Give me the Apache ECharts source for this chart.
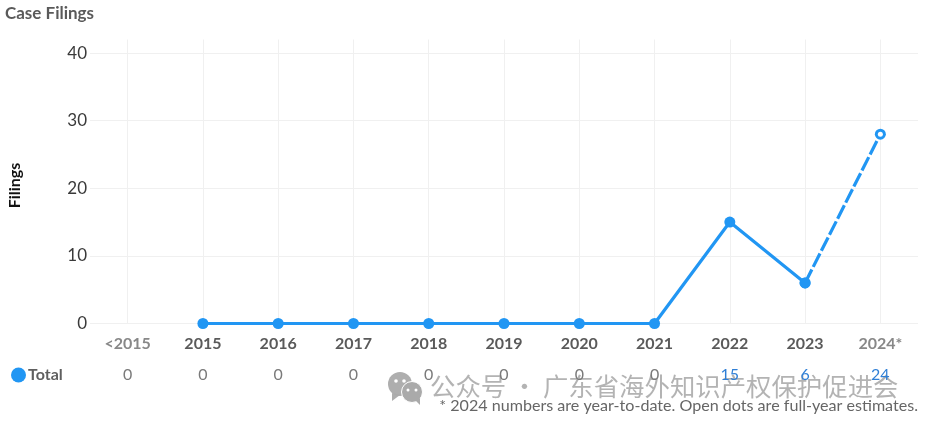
<!DOCTYPE html>
<html><head><meta charset="utf-8">
<style>html,body{margin:0;padding:0;background:#fff}#c{width:925px;height:425px}</style>
<script src="https://cdn.jsdelivr.net/npm/echarts@6/dist/echarts.min.js"></script>
</head><body><div id="c"></div>
<script>
const categories = ['<2015','2015','2016','2017','2018','2019','2020','2021','2022','2023','2024*'];
const actualFilings = [null,0,0,0,0,0,0,0,15,6,null];
const estimatedFilings = [null,null,null,null,null,null,null,null,null,6,28];
const tableTotals = [0,0,0,0,0,0,0,0,15,6,24];
const yTicks = [0,10,20,30,40];
const BLUE = '#2196f3';
const FONT = 'Lato, sans-serif';
const chart = echarts.init(document.getElementById('c'), null, {renderer:'canvas'});
chart.setOption({
  animation:false,
  backgroundColor:'#fff',
  textStyle:{fontFamily:FONT},
  title:{text:'Case Filings',left:5,top:5,padding:0,textStyle:{fontFamily:FONT,fontSize:17,fontWeight:'bold',color:'#5a5a5a'}},
  legend:{data:['Total'],left:11,top:367,padding:0,icon:'circle',itemWidth:15,itemHeight:15,itemGap:0,selectedMode:false,
    textStyle:{fontFamily:FONT,fontSize:16,fontWeight:'bold',color:'#5f5f5f',padding:[0,0,0,-3]}},
  grid:{left:90,right:7,top:39.5,height:284,containLabel:false,outerBoundsMode:'none'},
  xAxis:[
    {type:'category',data:categories,position:'bottom',boundaryGap:true,
     axisLine:{show:false},axisTick:{show:false},
     splitLine:{show:true,alignWithLabel:true,lineStyle:{color:'#f0f0f0',width:1}},
     axisLabel:{interval:0,margin:12,fontFamily:FONT,fontSize:16,fontWeight:'bold',
       color:(v,i)=>(i===0||i===categories.length-1)?'#888888':'#5a5a5a'}},
    {type:'category',data:tableTotals.map(String),position:'bottom',offset:32,boundaryGap:true,
     axisLine:{show:false},axisTick:{show:false},splitLine:{show:false},
     axisLabel:{interval:0,margin:11,fontFamily:FONT,fontSize:16,
       color:(v,i)=>tableTotals[i]>0?'#2f7fd6':'#7a7a7a'}}
  ],
  yAxis:{type:'value',min:0,max:42,interval:10,
    name:'Filings',nameLocation:'middle',nameGap:67,nameRotate:90,
    nameTextStyle:{fontFamily:FONT,fontSize:16,fontWeight:'bold',color:'#111',padding:[0,8,0,0]},
    axisLine:{show:false},axisTick:{show:false},
    splitLine:{show:true,showMinLine:true,showMaxLine:false,lineStyle:{color:'#f0f0f0',width:1}},
    axisLabel:{margin:3,padding:[2,0,0,0],fontFamily:FONT,fontSize:17,color:'#3a3a3a',customValues:yTicks}},
  series:[
    {name:'Total',type:'line',data:actualFilings,symbol:'circle',symbolSize:11,
     lineStyle:{color:BLUE,width:3.2},itemStyle:{color:BLUE},z:3},
    {name:'Estimate',type:'line',data:estimatedFilings,symbolSize:11,symbol:'circle',
     lineStyle:{color:BLUE,width:3.2,type:[15,3]},
     itemStyle:{color:BLUE},z:4,
     markPoint:{silent:true,symbol:'circle',symbolSize:5,itemStyle:{color:'#fff'},label:{show:false},
       data:[{coord:[10,28]}],animation:false}}
  ],
  graphic:[
    {type:'text',x:918,y:398,z:10,style:{text:'* 2024 numbers are year-to-date. Open dots are full-year estimates.',
      font:'16.1px Lato, sans-serif',fill:'#666',align:'right'}},
    {type:'group',z:20,silent:true,children:[
      {type:'circle',shape:{cx:400,cy:384,r:12},style:{fill:'rgba(170,170,170,0.95)'}},
      {type:'polygon',shape:{points:[[392,393],[392,401],[400,395]]},style:{fill:'rgba(170,170,170,0.95)'}},
      {type:'circle',shape:{cx:412,cy:392,r:10.5},style:{fill:'rgba(170,170,170,1)',stroke:'#fff',lineWidth:1}},
      {type:'polygon',shape:{points:[[415,400],[420,405],[420,398]]},style:{fill:'rgba(170,170,170,1)'}},
      {type:'circle',shape:{cx:396,cy:381,r:1.8},style:{fill:'#fff'}},
      {type:'circle',shape:{cx:404,cy:381,r:1.8},style:{fill:'#fff'}},
      {type:'circle',shape:{cx:408,cy:390,r:1.5},style:{fill:'#fff'}},
      {type:'circle',shape:{cx:416,cy:390,r:1.5},style:{fill:'#fff'}},
      {type:'text',x:430,y:374,style:{text:'公众号 · 广东省海外知识产权保护促进会',
        font:'25.4px "Noto Sans CJK SC", sans-serif',fill:'rgba(150,150,150,0.72)'}}
    ]}
  ]
});
</script></body></html>
